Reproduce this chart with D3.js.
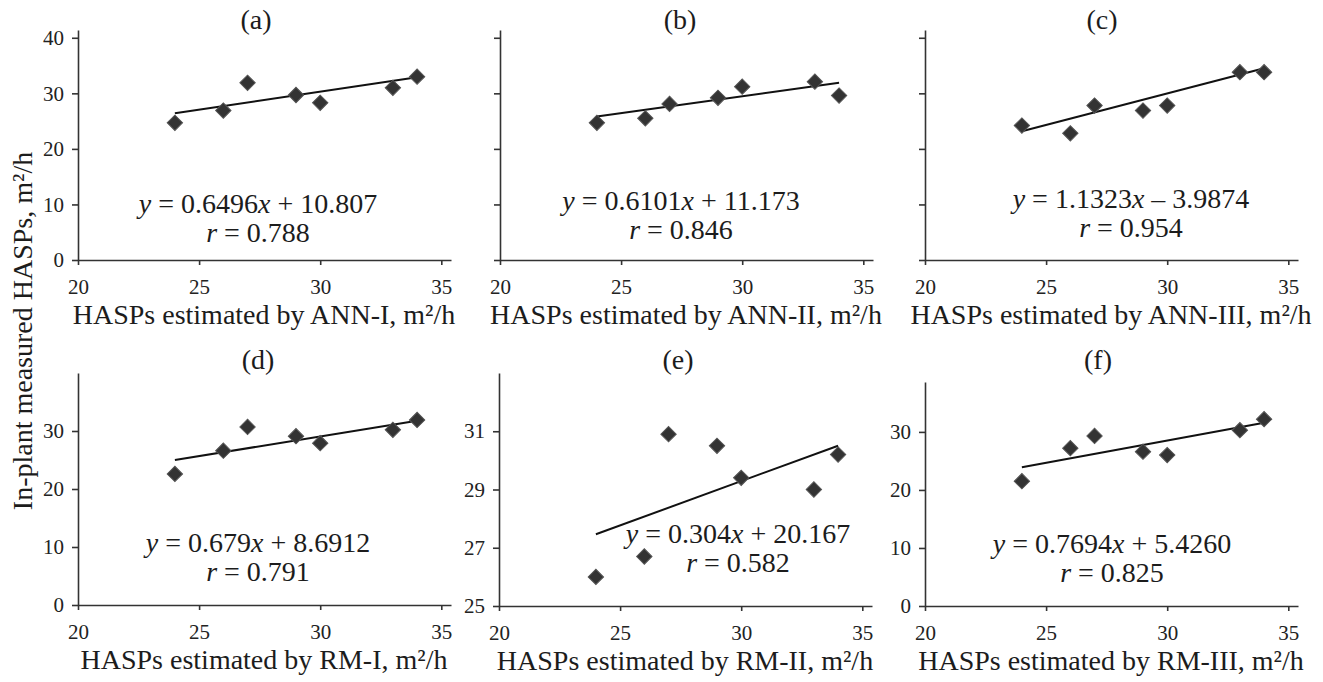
<!DOCTYPE html>
<html>
<head>
<meta charset="utf-8">
<script type="text/javascript" src="https://cdnjs.cloudflare.com/ajax/libs/d3/7.8.5/d3.min.js"></script>
<style>
  body { margin: 0; background: #fff; }
  svg text { font-family: "Liberation Serif", "Times New Roman", serif; fill: #1c1c1c; }
  .axis path, .axis line { stroke: #333; stroke-width: 1.6; }
</style>
</head>
<body>
<div id="viz"></div>
<script type="text/javascript">

// data
var xVals = [24, 26, 27, 29, 30, 33, 34];
var seriesA = [24.7, 26.9, 31.9, 29.7, 28.3, 31.0, 33.0];
var seriesB = [24.7, 25.5, 28.1, 29.2, 31.2, 32.1, 29.6];
var seriesC = [24.2, 22.8, 27.8, 26.9, 27.8, 33.8, 33.8];
var seriesD = [22.6, 26.6, 30.7, 29.1, 27.9, 30.2, 31.9];
var seriesE = [26.0, 26.7, 30.9, 30.5, 29.4, 29.0, 30.2];
var seriesF = [21.5, 27.2, 29.3, 26.6, 26.0, 30.3, 32.2];

var panelLabels = ["(a)", "(b)", "(c)", "(d)", "(e)", "(f)"];
var modelNames = ["ANN-I", "ANN-II", "ANN-III", "RM-I", "RM-II", "RM-III"];
var slopes = [0.6496, 0.6101, 1.1323, 0.679, 0.304, 0.7694];
var intercepts = [10.807, 11.173, -3.9874, 8.6912, 20.167, 5.4260];
var slopeLabels = ["0.6496", "0.6101", "1.1323", "0.679", "0.304", "0.7694"];
var interceptLabels = ["+ 10.807", "+ 11.173", "\u2013 3.9874", "+ 8.6912", "+ 20.167", "+ 5.4260"];
var rLabels = ["0.788", "0.846", "0.954", "0.791", "0.582", "0.825"];

var xTicks = [20, 25, 30, 35];
var yTicks = [[0, 10, 20, 30, 40], [0, 10, 20, 30, 40], [0, 10, 20, 30, 40],
              [0, 10, 20, 30], [25, 27, 29, 31], [0, 10, 20, 30]];
var yDomains = [[0, 41.4], [0, 41.4], [0, 41.4], [0, 40], [25, 33], [0, 38.6]];
var showYLabels = [true, false, false, true, true, true];

var allSeries = [seriesA, seriesB, seriesC, seriesD, seriesE, seriesF];

// layout of the six panels
var originX = [78, 500, 925, 78, 499, 925];
var bottomY = [260, 260, 260, 605, 606, 606];
var topY = [30, 30, 30, 373, 373, 382];
var eqX = [258, 681, 1131, 258, 738, 1112];
var eqY = [213, 210, 208, 552, 543, 553];
var titleX = [256, 680, 1102, 258, 678, 1098];
var titleY = [29, 29, 29, 369, 369, 369];

var svg = d3.select("#viz").append("svg")
    .attr("width", 1323)
    .attr("height", 682);

var diamond = d3.symbol().type(d3.symbolSquare).size(118);

panelLabels.forEach(function(lab, i) {
    var x = d3.scaleLinear().domain([20, 35.4]).range([originX[i], originX[i] + 373]);
    var y = d3.scaleLinear().domain(yDomains[i]).range([bottomY[i], topY[i]]);
    var g = svg.append("g");

    var xAxis = d3.axisBottom(x).tickValues(xTicks).tickSize(5).tickPadding(14).tickSizeOuter(0);
    var xg = g.append("g").attr("class", "axis")
        .attr("transform", "translate(0," + bottomY[i] + ")")
        .call(xAxis);

    var yAxis = d3.axisLeft(y).tickValues(yTicks[i]).tickSize(6).tickPadding(8).tickSizeOuter(0);
    if (!showYLabels[i]) yAxis.tickFormat("");
    var yg = g.append("g").attr("class", "axis")
        .attr("transform", "translate(" + originX[i] + ",0)")
        .call(yAxis);

    g.selectAll(".axis text")
        .style("font-family", "'Liberation Serif', serif")
        .style("font-size", "21px")
        .style("fill", "#222");

    // regression line
    var fit = [24, 34].map(function(v) { return [v, slopes[i] * v + intercepts[i]]; });
    g.append("path")
        .datum(fit)
        .attr("d", d3.line().x(function(d){ return x(d[0]); }).y(function(d){ return y(d[1]); }))
        .style("stroke", "#111")
        .style("stroke-width", 2)
        .style("fill", "none");

    // points
    g.selectAll(".pt").data(allSeries[i]).enter().append("path")
        .attr("d", diamond)
        .attr("transform", function(d, k){ return "translate(" + x(xVals[k]) + "," + y(d) + ") rotate(45)"; })
        .style("fill", "#333")
        .style("stroke", "#555")
        .style("stroke-width", 1);

    g.append("text")
        .attr("x", titleX[i]).attr("y", titleY[i])
        .attr("text-anchor", "middle")
        .style("font-size", "28px")
        .text(lab);

    var eq = g.append("text")
        .attr("x", eqX[i]).attr("y", eqY[i])
        .attr("text-anchor", "middle")
        .style("font-size", "28px");
    eq.append("tspan").style("font-style", "italic").text("y");
    eq.append("tspan").text(" = " + slopeLabels[i]);
    eq.append("tspan").style("font-style", "italic").text("x");
    eq.append("tspan").text(" " + interceptLabels[i]);

    var rt = g.append("text")
        .attr("x", eqX[i]).attr("y", eqY[i] + 29)
        .attr("text-anchor", "middle")
        .style("font-size", "28px");
    rt.append("tspan").style("font-style", "italic").text("r");
    rt.append("tspan").text(" = " + rLabels[i]);

    g.append("text")
        .attr("x", originX[i] + 186).attr("y", bottomY[i] + 64)
        .attr("text-anchor", "middle")
        .style("font-size", "28px")
        .text("HASPs estimated by " + modelNames[i] + ", m\u00b2/h");
});

svg.append("text")
    .attr("transform", "translate(32,331) rotate(-90)")
    .attr("text-anchor", "middle")
    .style("font-size", "28px")
    .text("In-plant measured HASPs, m\u00b2/h");

</script>
</body>
</html>
